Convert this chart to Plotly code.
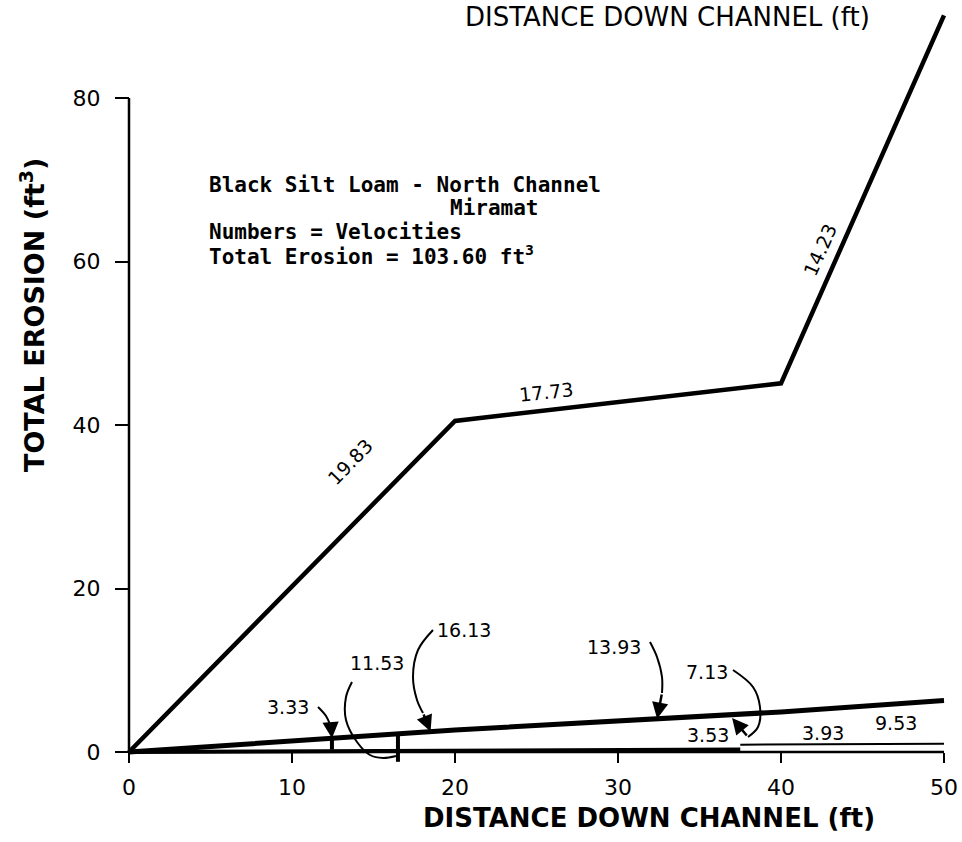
import numpy as np
import plotly.graph_objects as go

# ---------------------------------------------------------------- data
distance = [0, 20, 40, 50]                 # ft down channel
erosion_main = [0, 40.5, 45.1, 90.1]        # ft^3, main run
erosion_low = [0, 2.7, 4.9, 6.3]            # ft^3, low-velocity run
base_x = [0, 20, 37.5]
erosion_base = [0, 0.2, 0.3]
tail_x = [37.5, 50]
erosion_tail = [0.9, 1.0]
stake_x = [12.45, 16.5]
stake_bottom = [0.3, -1.2]

main_velocity = ["19.83", "17.73", "14.23"]
x_ticks = [0, 10, 20, 30, 40, 50]
x_tick_text = ["0", "10", "20", "30", "40", "50"]
y_ticks = [0, 20, 40, 60, 80]
y_tick_text = ["0", "20", "40", "60", "80"]

# ---------------------------------------------------------------- geometry
W, H = 962, 842
L_M, B_M = 119, 72
X0_PX, X50_PX = 129, 944
Y0_PX, Y80_PX = 752, 98
sx = (X50_PX - X0_PX) / 50.0
sy = (Y0_PX - Y80_PX) / 80.0
xmin = (L_M - X0_PX) / sx
xmax = (W - X0_PX) / sx
ymax = Y0_PX / sy
ymin = -(H - B_M - Y0_PX) / sy
plot_w = W - L_M
plot_h = H - B_M


def px_x(p):
    return (p - X0_PX) / sx


def px_y(p):
    return (Y0_PX - p) / sy


def paper_x(p):
    return (p - L_M) / plot_w


def paper_y(p):
    return (H - B_M - p) / plot_h


def low_at(x):
    return float(np.interp(x, distance, erosion_low))


fig = go.Figure()

fig.add_trace(go.Scatter(x=distance, y=erosion_main, mode="lines",
                         line=dict(color="black", width=4.5), hoverinfo="skip"))
fig.add_trace(go.Scatter(x=distance, y=erosion_low, mode="lines",
                         line=dict(color="black", width=5), hoverinfo="skip"))
fig.add_trace(go.Scatter(x=base_x, y=erosion_base, mode="lines",
                         line=dict(color="black", width=4), hoverinfo="skip"))
fig.add_trace(go.Scatter(x=tail_x, y=erosion_tail, mode="lines",
                         line=dict(color="black", width=2), hoverinfo="skip"))

# short vertical stakes hanging below the low run
sxs, sys_ = [], []
for xs, yb in zip(stake_x, stake_bottom):
    sxs += [xs, xs, None]
    sys_ += [low_at(xs), yb, None]
fig.add_trace(go.Scatter(x=sxs, y=sys_, mode="lines",
                         line=dict(color="black", width=4), hoverinfo="skip"))

# ---------------------------------------------------------------- velocity labels with leaders
num_font = dict(family="DejaVu Sans", size=19, color="black")

leaders = [
    # text, label centre (px), leader path (px), arrow tip x (data)
    ("16.13", (464, 630), [(433, 630), (418, 650), (413, 677), (417, 700), (423, 713)], 18.5),
    ("3.33", (288, 707), [(318, 707), (326, 716), (331, 727)], 12.45),
    ("13.93", (614, 647), [(650, 642), (657, 657), (662, 677), (662, 693)], 32.4),
    ("7.13", (707, 672), [(733, 670), (753, 687), (760, 707), (758, 727), (748, 737)], 37.0),
]
for text, (lx, ly), path, tip_x in leaders:
    fig.add_annotation(x=px_x(lx), y=px_y(ly), text=text, showarrow=False, font=num_font)
    fig.add_trace(go.Scatter(x=[px_x(p[0]) for p in path], y=[px_y(p[1]) for p in path],
                             mode="lines", line=dict(color="black", width=2, shape="spline"),
                             hoverinfo="skip"))
    tx, ty = path[-1]
    tip_y = low_at(tip_x) - (0.4 if text == "7.13" else 0.0)
    fig.add_annotation(x=tip_x, y=tip_y, ax=px_x(tx), ay=px_y(ty), axref="x", ayref="y",
                       text="", showarrow=True, arrowhead=2, arrowsize=1.3,
                       arrowwidth=2.5, arrowcolor="black", standoff=0)

# 11.53 loops under the axis to the second stake
fig.add_annotation(x=px_x(377), y=px_y(663), text="11.53", showarrow=False, font=num_font)
loop = [(352, 682), (346, 697), (346, 720), (357, 742), (370, 755), (383, 758), (396, 756)]
fig.add_trace(go.Scatter(x=[px_x(p[0]) for p in loop], y=[px_y(p[1]) for p in loop],
                         mode="lines", line=dict(color="black", width=2, shape="spline"),
                         hoverinfo="skip"))

for text, (lx, ly) in [("3.53", (708, 735)), ("3.93", (823, 733)), ("9.53", (896, 723))]:
    fig.add_annotation(x=px_x(lx), y=px_y(ly), text=text, showarrow=False, font=num_font)

# velocities written along the main run
for text, (lx, ly), ang in zip(main_velocity, [(350, 462), (546, 392), (820, 250)], [-46, -6, -66]):
    fig.add_annotation(x=px_x(lx), y=px_y(ly), text=text, showarrow=False,
                       textangle=ang, font=num_font)

# ---------------------------------------------------------------- notes block
mono = dict(family="DejaVu Sans Mono", size=21, color="black", weight="bold")
notes = [
    ("Black Silt Loam - North Channel", 207, 185),
    ("Miramat", 448, 208),
    ("Numbers = Velocities", 207, 232),
    ("Total Erosion = 103.60 ft<sup>3</sup>", 207, 255),
]
for text, x, y in notes:
    fig.add_annotation(xref="paper", yref="paper", x=paper_x(x), y=paper_y(y), text=text,
                       showarrow=False, xanchor="left", yanchor="middle", font=mono)

# ---------------------------------------------------------------- titles
title_font = dict(family="DejaVu Sans", size=26, color="black", weight="bold")
fig.add_annotation(xref="paper", yref="paper", x=paper_x(649), y=paper_y(818),
                   xanchor="center", yanchor="middle",
                   text="DISTANCE DOWN CHANNEL (ft)", showarrow=False, font=title_font)
fig.add_annotation(xref="paper", yref="paper", x=paper_x(667), y=paper_y(17),
                   xanchor="center", yanchor="middle",
                   text="DISTANCE DOWN CHANNEL (ft)", showarrow=False,
                   font=dict(family="DejaVu Sans", size=26, color="black"))
fig.add_annotation(xref="paper", yref="paper", x=paper_x(32), y=paper_y(315),
                   xanchor="center", yanchor="middle",
                   text="TOTAL EROSION (ft<sup>3</sup>)", showarrow=False, textangle=-90,
                   font=dict(family="DejaVu Sans", size=27, color="black", weight="bold"))

# ---------------------------------------------------------------- axes
fig.add_shape(type="line", x0=0, y0=0, x1=50, y1=0, xref="x", yref="y",
              line=dict(color="black", width=2.5))
fig.add_shape(type="line", x0=0, y0=0, x1=0, y1=80, xref="x", yref="y",
              line=dict(color="black", width=2.5))

tick_font = dict(family="DejaVu Sans", size=22, color="black")
fig.update_xaxes(range=[xmin, xmax], tickvals=x_ticks, ticktext=x_tick_text,
                 showgrid=False, zeroline=False, showline=False,
                 ticks="outside", ticklen=10, tickwidth=2, tickcolor="black",
                 tickfont=tick_font, ticklabelstandoff=6,
                 anchor="free", position=(0 - ymin) / (ymax - ymin))
fig.update_yaxes(range=[ymin, ymax], tickvals=y_ticks, ticktext=y_tick_text,
                 showgrid=False, zeroline=False, showline=False,
                 ticks="outside", ticklen=14, tickwidth=2, tickcolor="black",
                 tickfont=tick_font, ticklabelstandoff=10,
                 anchor="free", position=(0 - xmin) / (xmax - xmin))

fig.update_layout(width=W, height=H, autosize=False, showlegend=False,
                  margin=dict(l=L_M, r=0, t=0, b=B_M, pad=0),
                  plot_bgcolor="white", paper_bgcolor="white")

fig.write_html("out.html")
